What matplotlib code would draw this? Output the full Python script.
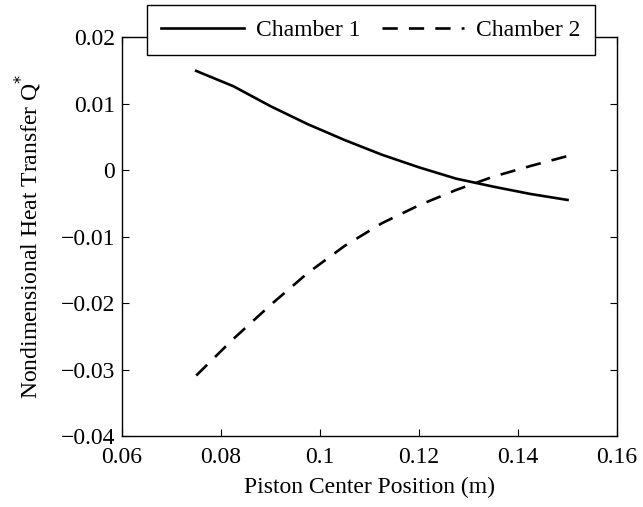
import matplotlib
matplotlib.use("Agg")
import matplotlib.pyplot as plt
import numpy as np

# piston position (m)
position = [0.075, 0.0825, 0.09, 0.0975, 0.105, 0.1125, 0.12, 0.1275, 0.135, 0.1425, 0.15]
# nondimensional heat transfer for each chamber
chamber1 = [0.0149, 0.0126, 0.0096, 0.0069, 0.0045, 0.0023, 0.0004, -0.0013, -0.0025, -0.0036, -0.0045]
chamber2 = [-0.0309, -0.0254, -0.0203, -0.0155, -0.0114, -0.0080, -0.0053, -0.0030, -0.0010, 0.0006, 0.0021]

xticks = [0.06, 0.08, 0.1, 0.12, 0.14, 0.16]
xlabels = ["0.06", "0.08", "0.1", "0.12", "0.14", "0.16"]
yticks = [-0.04, -0.03, -0.02, -0.01, 0, 0.01, 0.02]
ylabels = ["\u22120.04", "\u22120.03", "\u22120.02", "\u22120.01", "0", "0.01", "0.02"]

plt.rcParams['font.family'] = ['Liberation Serif', 'DejaVu Serif']
plt.rcParams['font.size'] = 17
plt.rcParams['lines.scale_dashes'] = False

fig = plt.figure(figsize=(6.43, 5.07), dpi=100)
ax = fig.add_axes([0.1897, 0.140, 0.7699, 0.787])

ax.plot(position, chamber1, color='black', linewidth=1.9, label='Chamber 1')
ax.plot(position, chamber2, color='black', linewidth=1.9, linestyle=(0, (11, 8)), label='Chamber 2')

ax.set_xlim(0.06, 0.16)
ax.set_ylim(-0.04, 0.02)
ax.set_xticks(xticks)
ax.set_xticklabels(xlabels)
ax.set_yticks(yticks)
ax.set_yticklabels(ylabels)
ax.tick_params(direction='in', top=True, right=True, length=5, width=0.8)
ax.tick_params(axis='x', pad=8)
ax.tick_params(axis='y', pad=5)
for s in ax.spines.values():
    s.set_linewidth(1.0)

ax.set_xlabel("Piston Center Position (m)", labelpad=6)
ax.set_ylabel("Nondimensional Heat Transfer Q$^{*}$", labelpad=12)

leg = ax.legend(loc='upper center', bbox_to_anchor=(0.503, 1.080), ncol=2,
                fancybox=False, framealpha=1, edgecolor='black', handlelength=3.5,
                columnspacing=0.9, handletextpad=0.5, borderpad=0.6, borderaxespad=0)
leg.get_frame().set_linewidth(1.0)

plt.savefig("out.png", dpi=100)
